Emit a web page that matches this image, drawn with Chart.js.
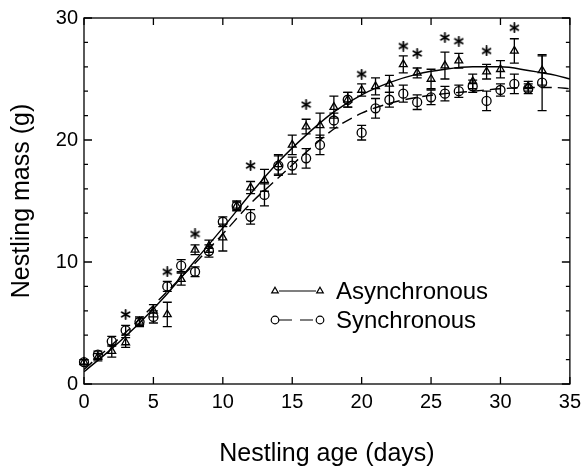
<!DOCTYPE html>
<html>
<head>
<meta charset="utf-8">
<script src="https://cdn.jsdelivr.net/npm/chart.js@4.4.0/dist/chart.umd.min.js"></script>
<style>
  html, body { margin: 0; padding: 0; background: #fff; }
  #wrap { width: 587px; height: 472px; }
</style>
</head>
<body>
<div id="wrap"><canvas id="massChart" width="587" height="472"></canvas></div>
<script>
// --- DATA ---
const days = [0, 1, 2, 3, 4, 5, 6, 7, 8, 9, 10, 11, 12, 13, 14, 15, 16, 17,
              18, 19, 20, 21, 22, 23, 24, 25, 26, 27, 28, 29, 30, 31, 32, 33];
const asyncMass = [1.8, 2.2, 2.7, 3.4, 5.1, 6.0, 5.7, 8.6, 11.0, 11.3, 12.0, 14.6,
                   16.1, 16.7, 18.0, 19.6, 21.1, 21.2, 22.7, 23.3, 24.1, 24.4, 24.6, 26.2,
                   25.5, 25.0, 26.1, 26.5, 24.8, 25.6, 25.8, 27.3, 24.4, 25.7];
const asyncSE = [0.2, 0.3, 0.5, 0.4, 0.4, 0.5, 1.0, 0.5, 0.4, 0.5, 1.1, 0.4,
                 0.5, 0.9, 0.8, 0.8, 0.6, 1.0, 0.9, 0.6, 0.5, 0.7, 0.7, 0.7,
                 0.4, 0.8, 1.1, 0.6, 0.6, 0.6, 0.7, 1.0, 0.4, 1.2];
const syncMass = [1.8, 2.4, 3.5, 4.4, 5.1, 5.5, 8.0, 9.7, 9.2, 10.9, 13.3, 14.6,
                  13.7, 15.5, 17.9, 17.9, 18.5, 19.6, 21.6, 23.3, 20.6, 22.6, 23.3, 23.8,
                  23.1, 23.5, 23.8, 24.0, 24.4, 23.2, 24.1, 24.6, 24.2, 24.7];
const syncSE = [0.2, 0.3, 0.4, 0.4, 0.3, 0.5, 0.4, 0.5, 0.4, 0.5, 0.4, 0.3,
                0.6, 0.9, 0.8, 0.7, 0.8, 0.8, 0.6, 0.6, 0.6, 0.8, 0.6, 0.7,
                0.6, 0.6, 0.6, 0.5, 0.5, 0.8, 0.5, 0.8, 0.4, 2.3];
// days with a significant difference (asterisk) and the height of the asterisk
const starDays = [3, 6, 8, 12, 16, 20, 23, 24, 26, 27, 29, 31];
const starMass = [5.7, 9.2, 12.3, 17.9, 22.9, 25.4, 27.7, 27.1, 28.4, 28.1, 27.3, 29.2];
// fitted growth curves
const fitDays = [0, 2, 4, 6, 8, 10, 12, 14, 16, 18, 20, 22, 24, 26, 28, 30, 32, 34, 35];
const asyncFit = [1.0, 2.9, 5.0, 7.4, 10.1, 12.8, 15.6, 18.2, 20.4, 22.3, 23.7, 24.7,
                  25.4, 25.8, 26.0, 26.0, 25.7, 25.3, 25.0];
const syncFit = [1.2, 3.2, 5.3, 7.6, 9.9, 12.3, 14.8, 16.9, 19.0, 20.9, 22.2, 23.0,
                 23.5, 23.8, 24.0, 24.2, 24.3, 24.3, 24.2];

const FONT = '"Liberation Sans", Arial, Helvetica, sans-serif';
const INK = '#000';

function toXY(xs, ys) {
    return xs.map((x, i) => ({ x: x, y: ys[i] }));
}

// six-spoke asterisk used as point style
function makeAsterisk() {
    const c = document.createElement('canvas');
    c.width = 11; c.height = 11;
    const g = c.getContext('2d');
    g.strokeStyle = INK;
    g.lineWidth = 1.8;
    g.lineCap = 'round';
    [90, 30, 150].forEach(a => {
        const r = a * Math.PI / 180;
        g.beginPath();
        g.moveTo(5.5 - 4.5 * Math.cos(r), 5.5 - 4.5 * Math.sin(r));
        g.lineTo(5.5 + 4.5 * Math.cos(r), 5.5 + 4.5 * Math.sin(r));
        g.stroke();
    });
    return c;
}

// --- PLUGINS ---
const framePlugin = {
    id: 'frame',
    afterDraw(chart) {
        const { ctx, chartArea: a, scales } = chart;
        ctx.save();
        ctx.strokeStyle = INK;
        ctx.lineWidth = 1.3;
        ctx.strokeRect(a.left, a.top, a.right - a.left, a.bottom - a.top);
        ctx.beginPath();
        scales.x.ticks.forEach(t => {
            const px = scales.x.getPixelForValue(t.value);
            ctx.moveTo(px, a.bottom); ctx.lineTo(px, a.bottom - 7);
            ctx.moveTo(px, a.top); ctx.lineTo(px, a.top + 7);
        });
        scales.y.ticks.forEach(t => {
            const py = scales.y.getPixelForValue(t.value);
            const len = t.value % 10 === 0 ? 8 : 4;
            ctx.moveTo(a.left, py); ctx.lineTo(a.left + len, py);
            ctx.moveTo(a.right, py); ctx.lineTo(a.right - len, py);
        });
        ctx.stroke();
        ctx.restore();
    }
};

const errorBarPlugin = {
    id: 'errorBars',
    afterDatasetsDraw(chart) {
        const { ctx, scales } = chart;
        ctx.save();
        ctx.strokeStyle = INK;
        ctx.lineWidth = 1.3;
        chart.data.datasets.forEach((ds, i) => {
            if (!ds.errors) return;
            const meta = chart.getDatasetMeta(i);
            meta.data.forEach((pt, j) => {
                const v = ds.data[j].y, e = ds.errors[j];
                const top = scales.y.getPixelForValue(v + e);
                const bot = scales.y.getPixelForValue(v - e);
                ctx.beginPath();
                ctx.moveTo(pt.x, top); ctx.lineTo(pt.x, bot);
                ctx.moveTo(pt.x - 4.5, top); ctx.lineTo(pt.x + 4.5, top);
                ctx.moveTo(pt.x - 4.5, bot); ctx.lineTo(pt.x + 4.5, bot);
                ctx.stroke();
            });
        });
        ctx.restore();
    }
};

const legendPlugin = {
    id: 'innerLegend',
    afterDraw(chart) {
        const { ctx } = chart;
        const rows = [
            { label: 'Asynchronous', style: 'triangle', dash: [], y: 291 },
            { label: 'Synchronous', style: 'circle', dash: [13, 8], y: 320 }
        ];
        ctx.save();
        rows.forEach(r => {
            ctx.strokeStyle = INK;
            ctx.lineWidth = 1.2;
            ctx.setLineDash(r.dash);
            ctx.beginPath();
            ctx.moveTo(279, r.y); ctx.lineTo(316, r.y);
            ctx.stroke();
            ctx.setLineDash([]);
            ctx.fillStyle = 'rgba(0,0,0,0)';
            [275, 320].forEach(x => {
                Chart.helpers.drawPoint(ctx, { pointStyle: r.style, radius: 3.8, rotation: 0, borderWidth: 1.2 }, x, r.y);
            });
            ctx.fillStyle = INK;
            ctx.font = '24px ' + FONT;
            ctx.textBaseline = 'middle';
            ctx.textAlign = 'left';
            ctx.fillText(r.label, 336, r.y + 1);
        });
        ctx.restore();
    }
};

// --- CHART ---
const canvas = document.getElementById('massChart');
new Chart(canvas, {
    type: 'scatter',
    data: {
        datasets: [
            {
                label: 'Asynchronous fit', data: toXY(fitDays, asyncFit), showLine: true,
                borderColor: INK, borderWidth: 1.4, pointRadius: 0, cubicInterpolationMode: 'monotone'
            },
            {
                label: 'Synchronous fit', data: toXY(fitDays, syncFit), showLine: true,
                borderColor: INK, borderWidth: 1.4, borderDash: [11, 6], pointRadius: 0,
                cubicInterpolationMode: 'monotone'
            },
            {
                label: 'Asynchronous', data: toXY(days, asyncMass), errors: asyncSE,
                pointStyle: 'triangle', pointRadius: 4.5, pointBorderWidth: 1.3,
                borderColor: INK, backgroundColor: 'rgba(0,0,0,0)', clip: false
            },
            {
                label: 'Synchronous', data: toXY(days, syncMass), errors: syncSE,
                pointStyle: 'circle', pointRadius: 4.5, pointBorderWidth: 1.3,
                borderColor: INK, backgroundColor: 'rgba(0,0,0,0)', clip: false
            },
            {
                label: 'Significant', data: toXY(starDays, starMass),
                pointStyle: makeAsterisk(), pointRadius: 5, clip: false
            }
        ]
    },
    options: {
        responsive: false,
        animation: false,
        devicePixelRatio: 1,
        layout: { padding: { top: 14, right: 15, left: 0, bottom: 0 } },
        plugins: { legend: { display: false }, tooltip: { enabled: false } },
        scales: {
            x: {
                type: 'linear', min: 0, max: 35,
                ticks: { stepSize: 5, padding: 6, color: INK, maxRotation: 0, font: { family: FONT, size: 20 } },
                grid: { display: false, drawTicks: false },
                border: { display: false },
                title: {
                    display: true, text: 'Nestling age (days)', color: INK,
                    font: { family: FONT, size: 25 }, padding: { top: 0, bottom: 3 }
                },
                afterFit: s => { s.height = 88; }
            },
            y: {
                type: 'linear', min: 0, max: 30,
                ticks: {
                    stepSize: 2, autoSkip: false, padding: 6, color: INK,
                    font: { family: FONT, size: 20 },
                    callback: v => (v % 10 === 0 ? v : '')
                },
                grid: { display: false, drawTicks: false },
                border: { display: false },
                title: {
                    display: true, text: 'Nestling mass (g)', color: INK,
                    font: { family: FONT, size: 25 }, padding: { top: 7, bottom: 0 }
                },
                afterFit: s => { s.width = 84; }
            }
        }
    },
    plugins: [framePlugin, errorBarPlugin, legendPlugin]
});
</script>
</body>
</html>
